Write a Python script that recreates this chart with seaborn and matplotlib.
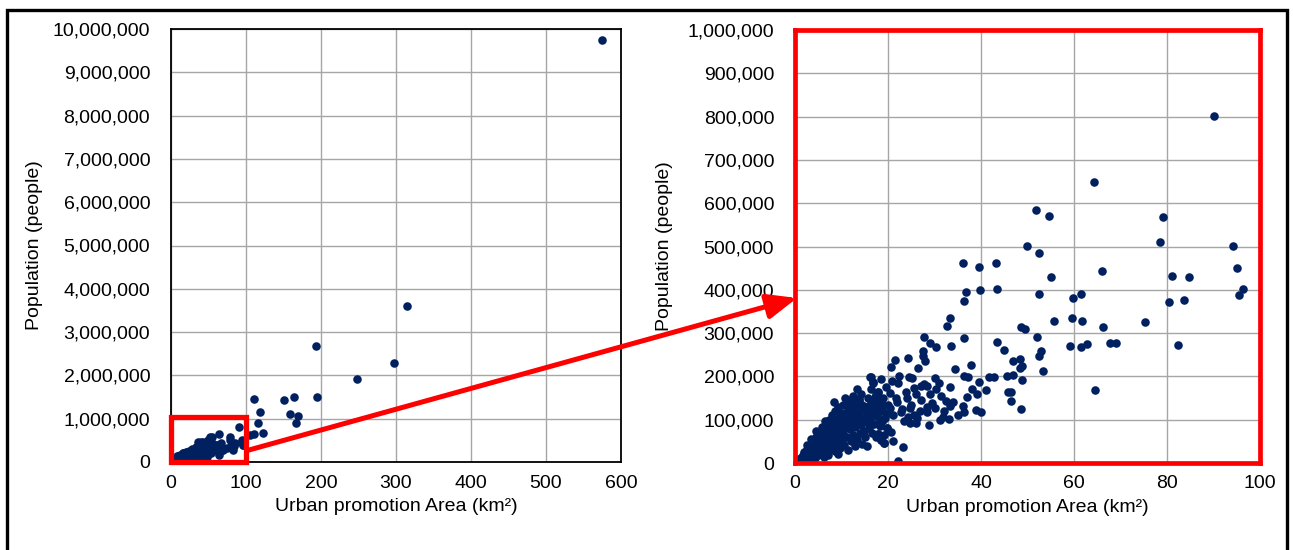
import matplotlib
matplotlib.use("Agg")
import matplotlib.pyplot as plt
from matplotlib.patches import Rectangle, FancyArrowPatch, ArrowStyle
from matplotlib.ticker import FuncFormatter
import seaborn as sns
import pandas as pd

# Urban promotion areas: area (km2) and resident population
area_km2 = [
    # large cities
    575, 314, 193, 297, 248, 194, 110, 150, 164, 118, 158, 169, 166, 116, 123, 110, 105,
    # 36-100 km2
    90, 79.2, 78.5, 94.3, 95, 96.3, 95.5, 81, 84.7, 80.4, 83.7, 66, 66.2, 75.3, 67.7, 69,
    82.4, 64.2, 51.8, 54.6, 49.9, 52.4, 36.2, 39.5, 43.2, 55, 36.8, 39.7, 43.4, 52.5, 36.4,
    59.7, 61.4, 33.4, 32.7, 48.7, 49.5, 55.6, 59.5, 61.7, 27.8, 36.4, 52, 43.4, 45, 52.8,
    52.5, 59.1, 61.4, 62.8, 46.9, 48.4, 48.9, 48.4, 53.3, 37.8, 36.4, 37.2, 41.7, 42.9,
    45.6, 46.8, 48.9, 39.6, 38, 39.2, 41.1, 37, 45.9, 46.4, 46.4, 64.5, 36.1, 36.3, 39, 40,
    48.5,
    # 16-36 km2
    29, 30.3, 27.5, 27.5, 28, 33.5, 34.4, 24.2, 20.6, 21.5, 26.4, 16.3, 16.8, 22.4, 24.5,
    25.2, 20.9, 22.2, 30, 27.8, 28.3, 25.5, 27.1, 33.3, 30.3, 31.5, 32.4, 33.3, 29.4, 28.3,
    28.3, 30.1, 33.2, 31.8, 31.1, 28.8, 25.6, 26, 23.4, 24.7, 24.2, 23.3, 22.1, 21.1, 19.2,
    17.9, 20.6, 19.7, 18.4, 17.6, 16.5, 15.3, 13.8, 11.1, 11.6, 11, 8.8, 6.1, 5.7, 17.8,
    17.4, 12, 13.6, 12.2, 15, 9, 20.4, 20.4, 18.6,
    24, 22, 26, 23, 21, 25, 27, 29, 31, 32, 34, 35, 26.8, 23.8, 21.8, 19, 20, 22.8, 24.8, 26.2,
    # small areas
    0, 0.2, 0.5, 0.8, 1.0, 1.2, 1.4, 1.6, 1.8, 2.0, 2.0, 0.6, 1.1,
    2.2, 2.4, 2.5, 2.7, 2.9, 3.0, 3.1, 3.3, 3.5, 3.6, 3.8, 3.9, 4.0, 4.1, 2.6, 3.4,
    4.3, 4.4, 4.6, 4.7, 4.9, 5.0, 5.1, 5.3, 5.4, 5.6, 5.7, 5.8, 5.9, 6.0, 4.5, 5.2,
    6.1, 6.2, 6.3, 6.4, 6.6, 6.7, 6.8, 6.9, 7.0, 7.2, 7.3, 7.4, 7.5, 7.6, 7.8, 7.9, 6.5, 7.1,
    8.0, 8.1, 8.2, 8.4, 8.5, 8.6, 8.8, 8.9, 9.0, 9.1, 9.2, 9.4, 9.5, 9.6, 9.8, 9.9, 8.3, 9.3,
    10.0, 10.1, 10.3, 10.4, 10.5, 10.6, 10.8, 11.0, 11.1, 11.2, 11.4, 11.5, 11.6, 11.8, 12.0,
    12.0, 10.7, 11.3,
    12.2, 12.3, 12.5, 12.6, 12.8, 12.9, 13.0, 13.2, 13.4, 13.6, 13.7, 13.8, 13.9, 14.0, 12.4, 13.3,
    14.2, 14.4, 14.5, 14.6, 14.8, 15.0, 15.1, 15.3, 15.4, 15.6, 15.8, 15.9, 14.3, 15.5,
    16.1, 16.2, 16.3, 16.5, 16.6, 16.8, 16.9, 17.0, 17.2, 17.4, 17.5, 17.6, 17.8, 17.9, 16.4, 17.3,
    18.0, 18.2, 18.4, 18.6, 18.8, 19.0, 19.2, 19.4, 19.5, 19.7, 19.9, 18.5, 19.1,
    3.2, 4.8, 5.5, 6.7, 7.7, 8.7, 9.7, 10.2, 10.9, 11.7, 12.7, 13.5, 14.1, 14.9, 15.7,
    16.7, 17.7, 18.9, 2.3, 4.2, 6.9, 8.4, 9.9, 12.1,
]

population = [
    9750000, 3600000, 2690000, 2280000, 1920000, 1500000, 1450000, 1430000, 1500000,
    1150000, 1120000, 1060000, 910000, 910000, 660000, 640000, 620000,
    802000, 569000, 510000, 502000, 451000, 403000, 388000, 433000, 430000, 371000, 376000,
    444000, 314000, 325000, 276000, 276000, 272000, 650000, 584000, 571000, 501000, 485000,
    461000, 453000, 461000, 430000, 394000, 399000, 403000, 390000, 373000, 382000, 390000,
    336000, 316000, 313000, 309000, 329000, 336000, 329000, 292000, 288000, 292000, 279000,
    262000, 259000, 247000, 270000, 268000, 275000, 236000, 241000, 223000, 220000, 212000,
    226000, 201000, 199000, 199000, 198000, 201000, 203000, 192000, 186000, 170000, 159000,
    168000, 152000, 163000, 163000, 144000, 169000, 132000, 118000, 123000, 118000, 125000,
    278000, 268000, 259000, 246000, 236000, 270000, 217000, 243000, 222000, 238000, 220000,
    199000, 186000, 201000, 198000, 197000, 189000, 184000, 197000, 182000, 178000, 174000,
    177000, 176000, 170000, 155000, 144000, 132000, 139000, 130000, 118000, 126000, 101000,
    107000, 99000, 88000, 111000, 92000, 97000, 92000, 107000, 38000, 5000, 51000, 47000,
    66000, 72000, 80000, 95000, 109000, 124000, 130000, 145000, 145000, 130000, 115000,
    98000, 79000, 71000, 163000, 157000, 140000, 130000, 122000, 122000, 95000, 161000,
    126000, 53000,
    150000, 140000, 160000, 125000, 110000, 135000, 145000, 160000, 185000, 120000, 140000,
    110000, 120000, 165000, 150000, 135000, 115000, 118000, 128000, 105000,
    0, 1000, 3000, 6000, 9000, 4000, 14000, 8000, 18000, 12000, 25000, 9000, 2000,
    5000, 20000, 32000, 14000, 27000, 9000, 38000, 21000, 15000, 45000, 30000, 8000, 52000,
    22000, 41000, 55000,
    38000, 12000, 60000, 28000, 46000, 18000, 70000, 35000, 55000, 22000, 71000, 44000,
    84000, 30000, 75000, 62000,
    79000, 52000, 15000, 66000, 38000, 90000, 58000, 26000, 75000, 45000, 100000, 62000,
    33000, 85000, 52000, 110000, 98000, 18000,
    70000, 40000, 92000, 58000, 120000, 28000, 98000, 75000, 45000, 88000, 130000, 62000,
    105000, 35000, 80000, 115000, 140000, 20000,
    52000, 95000, 135000, 70000, 42000, 110000, 85000, 115000, 145000, 60000, 100000, 30000,
    130000, 78000, 140000, 50000, 150000, 120000,
    122000, 92000, 65000, 108000, 40000, 135000, 82000, 115000, 55000, 130000, 98000,
    148000, 70000, 120000, 155000, 170000,
    88000, 45000, 135000, 105000, 75000, 122000, 60000, 130000, 95000, 150000, 112000,
    80000, 160000, 40000,
    199000, 100000, 140000, 124000, 70000, 185000, 90000, 115000, 150000, 157000, 60000,
    109000, 163000, 66000, 172000, 130000,
    140000, 85000, 95000, 53000, 120000, 150000, 47000, 105000, 175000, 80000, 135000,
    195000, 65000,
    28000, 40000, 48000, 60000, 68000, 82000, 95000, 78000, 92000, 105000, 100000, 108000,
    102000, 98000, 128000, 145000, 125000, 100000, 16000, 32000, 48000, 78000, 68000, 88000,
]

x_ticks_full = [0, 100, 200, 300, 400, 500, 600]
y_ticks_full = [0, 1000000, 2000000, 3000000, 4000000, 5000000,
                6000000, 7000000, 8000000, 9000000, 10000000]
x_ticks_zoom = [0, 20, 40, 60, 80, 100]
y_ticks_zoom = [0, 100000, 200000, 300000, 400000, 500000,
                600000, 700000, 800000, 900000, 1000000]

df = pd.DataFrame({"area": area_km2, "pop": population})

sns.set_theme(style="white")
plt.rcParams["font.family"] = ["Liberation Sans", "DejaVu Sans"]

W, H = 1293, 550
fig = plt.figure(figsize=(W / 100, H / 100), dpi=100)

ax1 = fig.add_axes([171 / W, 1 - 462 / H, 450 / W, 433 / H])
ax2 = fig.add_axes([795 / W, 1 - 463 / H, 465 / W, 433 / H])

dot = "#002060"
grid_col = "#a6a6a6"
red = "#ff0000"
fs = 14
comma = FuncFormatter(lambda v, p: f"{int(round(v)):,}")

for ax, xt, yt in [(ax1, x_ticks_full, y_ticks_full), (ax2, x_ticks_zoom, y_ticks_zoom)]:
    sns.scatterplot(data=df, x="area", y="pop", ax=ax, color=dot, s=38,
                    linewidth=0, zorder=3, clip_on=True)
    ax.set_xlim(xt[0], xt[-1])
    ax.set_ylim(yt[0], yt[-1])
    ax.set_xticks(xt)
    ax.set_yticks(yt)
    ax.yaxis.set_major_formatter(comma)
    ax.grid(True, color=grid_col, linewidth=1.0, zorder=0)
    ax.set_axisbelow(True)
    ax.tick_params(axis="both", length=0, labelsize=fs, colors="#000000")
    ax.tick_params(axis="y", pad=15)
    ax.tick_params(axis="x", pad=9)
    ax.set_xlabel("Urban promotion Area (km²)", fontsize=fs, color="#000000")
    ax.set_ylabel("Population (people)", fontsize=fs, color="#000000")

for s in ax1.spines.values():
    s.set_color("#000000")
    s.set_linewidth(1.3)
for s in ax2.spines.values():
    s.set_color(red)
    s.set_linewidth(3.4)
    s.set_zorder(5)

ax1.yaxis.set_label_coords(-0.285, 0.5)
ax1.xaxis.set_label_coords(0.5, -0.083)
ax2.yaxis.set_label_coords(-0.262, 0.5)
ax2.xaxis.set_label_coords(0.5, -0.083)

# highlight box on the full-range panel
ax1.add_patch(Rectangle((0, 0), 100, 1050000, fill=False, edgecolor=red,
                        linewidth=3.8, clip_on=False, zorder=6))

# arrow from the highlight box to the zoomed panel
arrow = FancyArrowPatch((249 / W, 1 - 450 / H), (797 / W, 1 - 298 / H),
                        transform=fig.transFigure,
                        arrowstyle=ArrowStyle("-|>", head_length=1.8, head_width=0.75),
                        mutation_scale=10, color=red, linewidth=3.6,
                        shrinkA=0, shrinkB=0, zorder=10)
fig.patches.append(arrow)

# outer frame
fig.patches.append(Rectangle((6.5 / W, -0.02), (1287 - 6.5) / W, 1.02 - 10 / H,
                             transform=fig.transFigure, fill=False,
                             edgecolor="#000000", linewidth=2.4, zorder=0))

fig.savefig("out.png", dpi=100, facecolor="white")
